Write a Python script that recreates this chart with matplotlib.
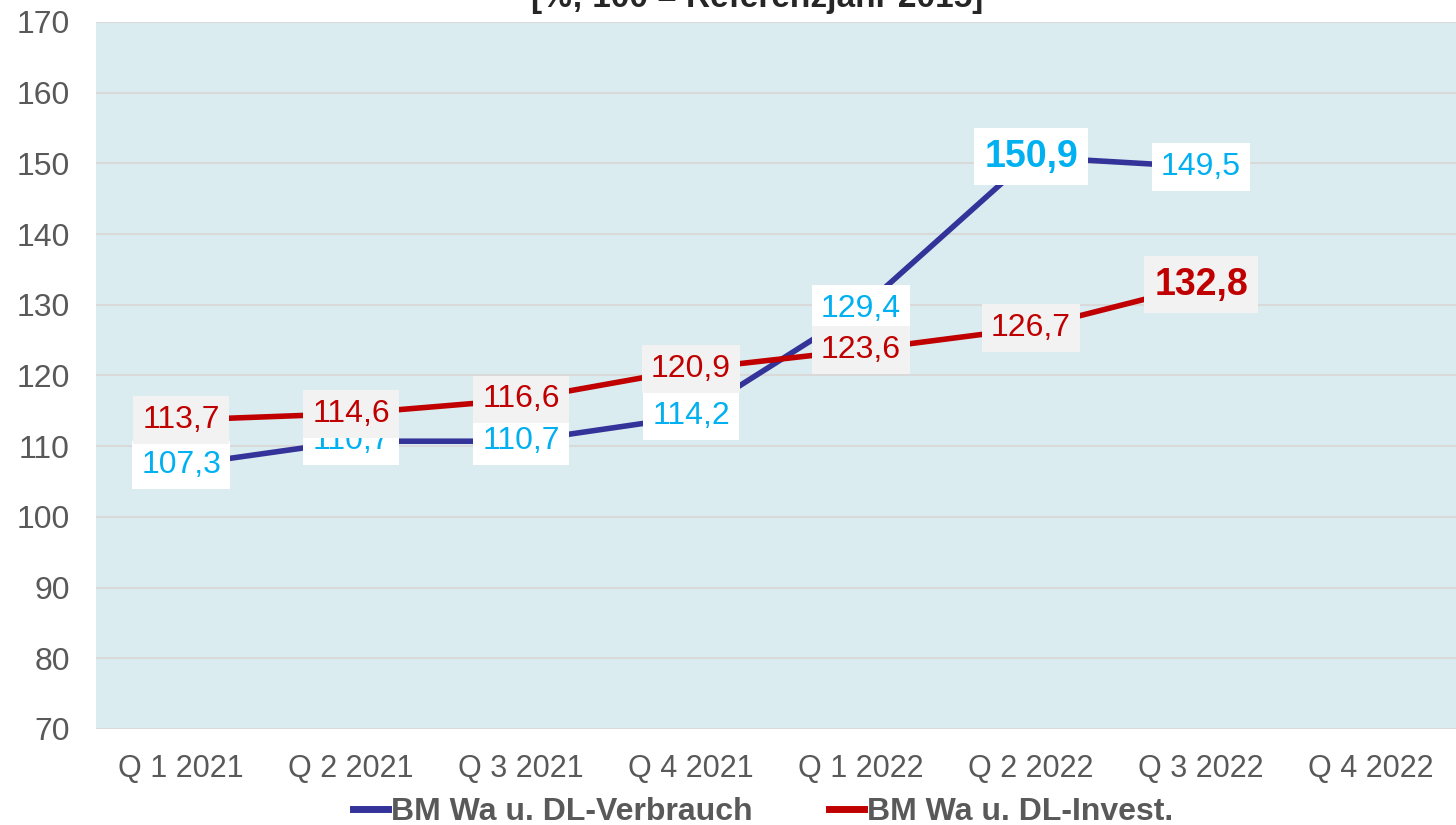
import matplotlib.pyplot as plt
import matplotlib.lines as mlines

plt.rcParams['font.family'] = ['Liberation Sans', 'DejaVu Sans']

categories = ["Q 1 2021", "Q 2 2021", "Q 3 2021", "Q 4 2021",
              "Q 1 2022", "Q 2 2022", "Q 3 2022", "Q 4 2022"]
verbrauch = [107.3, 110.7, 110.7, 114.2, 129.4, 150.9, 149.5]
invest = [113.7, 114.6, 116.6, 120.9, 123.6, 126.7, 132.8]
verbrauch_labels = ["107,3", "110,7", "110,7", "114,2", "129,4", "150,9", "149,5"]
invest_labels = ["113,7", "114,6", "116,6", "120,9", "123,6", "126,7", "132,8"]
yticks = list(range(70, 171, 10))
title = "[%; 100 = Referenzjahr 2015]"
series_names = ["BM Wa u. DL-Verbrauch", "BM Wa u. DL-Invest."]

blue_line = "#333399"
red = "#C00000"
blue_lbl = "#00B0F0"
gray = "#595959"

fig = plt.figure(figsize=(14.56, 8.25), dpi=100)
ax = fig.add_axes([0.066, 0.1164, 0.934, 0.857])
ax.set_facecolor("#DAECEF")
ax.set_xlim(-0.5, len(categories) - 0.5)
ax.set_ylim(70, 170)
ax.set_yticks(yticks)
ax.set_yticklabels([str(v) for v in yticks])
ax.set_xticks(range(len(categories)))
ax.set_xticklabels(categories)
ax.tick_params(axis='both', length=0, labelcolor=gray)
ax.tick_params(axis='x', pad=18, labelsize=22)
ax.tick_params(axis='y', pad=19, labelsize=23)
ax.grid(axis='y', color="#D9D9D9", linewidth=1.5)
ax.set_axisbelow(True)
for s in ax.spines.values():
    s.set_visible(False)

x_v = list(range(len(verbrauch)))
x_i = list(range(len(invest)))
ax.plot(x_v, verbrauch, color=blue_line, lw=4, zorder=3, solid_capstyle='round')
ax.plot(x_i, invest, color=red, lw=4, zorder=3, solid_capstyle='round')

i_max_v = verbrauch.index(max(verbrauch))
i_max_i = invest.index(max(invest))
for i, (v, lab) in enumerate(zip(verbrauch, verbrauch_labels)):
    bold = (i == i_max_v)
    ax.text(i, v, lab, ha='center', va='center', color=blue_lbl,
            fontsize=27 if bold else 23, fontweight='bold' if bold else 'normal',
            zorder=4,
            bbox=dict(boxstyle='square,pad=0.28', fc='white', ec='none'))
for i, (v, lab) in enumerate(zip(invest, invest_labels)):
    bold = (i == i_max_i)
    ax.text(i, v, lab, ha='center', va='center', color=red,
            fontsize=27 if bold else 23, fontweight='bold' if bold else 'normal',
            zorder=5,
            bbox=dict(boxstyle='square,pad=0.28', fc='#F2F2F2', ec='none'))

fig.text(0.52, 1.002, title, ha='center', va='center', fontsize=24,
         fontweight='bold', color='#262626')

h1 = mlines.Line2D([], [], color=blue_line, lw=5)
h2 = mlines.Line2D([], [], color=red, lw=5)
leg = fig.legend([h1, h2], series_names, loc='center', bbox_to_anchor=(0.524, 0.016),
                 ncol=2, frameon=False, handlelength=1.1, handletextpad=0.08,
                 columnspacing=2.4, prop={'size': 23, 'weight': 'bold'})
for t in leg.get_texts():
    t.set_color(gray)

fig.savefig("out.png", dpi=100)
